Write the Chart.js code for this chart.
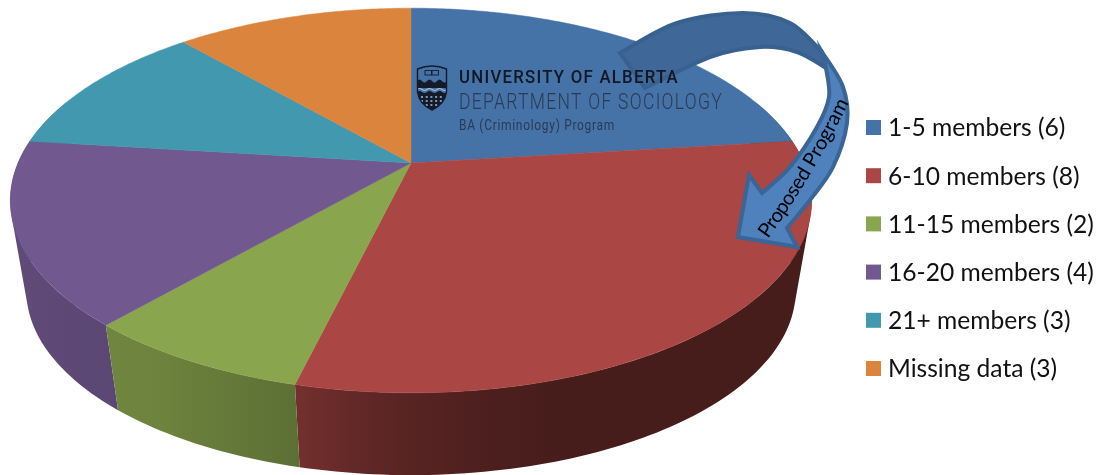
<!DOCTYPE html>
<html>
<head>
<meta charset="utf-8">
<style>
  body { margin: 0; background: #fff; }
  canvas { display: block; }
</style>
<script src="https://cdn.jsdelivr.net/npm/chart.js@4.4.0/dist/chart.umd.min.js"></script>
</head>
<body>
<canvas id="grafico" width="1100" height="475"></canvas>
<script>
// Datos
const categorias = ['1-5 members', '6-10 members', '11-15 members', '16-20 members', '21+ members', 'Missing data'];
const valores = [6, 8, 2, 4, 3, 3];
const colores = ['#4572A7', '#AA4643', '#89A54E', '#71588F', '#4198AF', '#DB843D'];

// Proyeccion del disco en perspectiva
const vista = { cx: 411, cy: 163, a: 393, b: 185, k: 0.195, fondo: 91.5, escala: 0.96 };
// Sombra de la cara lateral de izquierda (-1) a derecha (1)
const sombras = [[-1, 0.84], [-0.66, 0.8], [-0.3, 0.68], [-0.1, 0.55], [0.15, 0.46], [0.4, 0.41], [1, 0.41]];

function proyectar(ang, abajo) {
    const u = Math.sin(ang), v = -Math.cos(ang);
    const d = 1 - vista.k * v;
    const s = abajo ? vista.escala : 1;
    return {
        x: vista.cx + s * vista.a * u / d,
        y: vista.cy + (abajo ? vista.fondo : 0) + s * vista.b * v / d
    };
}

function oscurecer(hex, f) {
    const n = parseInt(hex.slice(1), 16);
    return `rgb(${Math.round((n >> 16) * f)},${Math.round(((n >> 8) & 255) * f)},${Math.round((n & 255) * f)})`;
}

function curva(ctx, pts, mover) {
    if (mover) ctx.moveTo(pts[0][0], pts[0][1]); else ctx.lineTo(pts[0][0], pts[0][1]);
    for (let i = 0; i < pts.length - 1; i++) {
        const p0 = pts[Math.max(i - 1, 0)], p1 = pts[i], p2 = pts[i + 1], p3 = pts[Math.min(i + 2, pts.length - 1)];
        ctx.bezierCurveTo(
            p1[0] + (p2[0] - p0[0]) / 6, p1[1] + (p2[1] - p0[1]) / 6,
            p2[0] - (p3[0] - p1[0]) / 6, p2[1] - (p3[1] - p1[1]) / 6,
            p2[0], p2[1]);
    }
}

function dibujarFlecha(ctx) {
    ctx.save();
    ctx.lineJoin = 'miter';
    // parte trasera oscura
    ctx.beginPath();
    curva(ctx, [[620, 53], [677, 23], [743, 13], [790, 23], [822, 52]], true);
    curva(ctx, [[826, 68], [797, 52], [760, 47], [710, 57], [645, 88]], false);
    ctx.closePath();
    ctx.fillStyle = '#3f6899';
    ctx.strokeStyle = '#38618f';
    ctx.lineWidth = 4;
    ctx.fill();
    ctx.stroke();
    // parte delantera clara
    ctx.beginPath();
    curva(ctx, [[826, 68], [829, 97], [817, 127], [790, 167], [762, 193]], true);
    ctx.lineTo(749, 175);
    ctx.lineTo(738, 237);
    ctx.lineTo(797, 247);
    curva(ctx, [[787, 228], [810, 200], [833, 167], [847, 123], [843, 87], [822, 52]], false);
    ctx.closePath();
    ctx.fillStyle = '#4f81bd';
    ctx.strokeStyle = '#3a6596';
    ctx.fill();
    ctx.stroke();
    ctx.restore();
}

function textoFlecha(ctx) {
    const texto = 'Proposed Program';
    const p0 = [768, 239], c = [812, 178], p2 = [849, 102];
    const punto = t => [
        (1 - t) * (1 - t) * p0[0] + 2 * t * (1 - t) * c[0] + t * t * p2[0],
        (1 - t) * (1 - t) * p0[1] + 2 * t * (1 - t) * c[1] + t * t * p2[1]
    ];
    ctx.save();
    ctx.font = '20px Lato';
    ctx.fillStyle = '#000';
    ctx.textAlign = 'left';
    ctx.textBaseline = 'alphabetic';
    const total = ctx.measureText(texto).width;
    for (let i = 0; i < texto.length; i++) {
        const t = ctx.measureText(texto.slice(0, i)).width / total;
        const [x, y] = punto(t);
        const [x2, y2] = punto(t + 0.01);
        ctx.save();
        ctx.translate(x, y);
        ctx.rotate(Math.atan2(y2 - y, x2 - x));
        ctx.fillText(texto[i], 0, 0);
        ctx.restore();
    }
    ctx.restore();
}

function dibujarEscudo(ctx) {
    ctx.save();
    const silueta = () => {
        ctx.beginPath();
        ctx.moveTo(417.5, 69);
        ctx.quadraticCurveTo(432, 63, 446.5, 69);
        ctx.lineTo(446.5, 92);
        ctx.quadraticCurveTo(445, 104, 432, 110);
        ctx.quadraticCurveTo(419, 104, 417.5, 92);
        ctx.closePath();
    };
    const ola = (y, alto) => {
        ctx.moveTo(417, y);
        for (let c = 0; c < 3; c++) {
            ctx.quadraticCurveTo(419.5 + c * 10, y - alto, 422 + c * 10, y);
            ctx.quadraticCurveTo(424.5 + c * 10, y + alto, 427 + c * 10, y);
        }
    };
    silueta();
    ctx.save();
    ctx.clip();
    ctx.fillStyle = '#4572a7';
    ctx.fillRect(417, 64, 30, 47);
    // banda de montanas
    ctx.fillStyle = '#141b28';
    ctx.beginPath();
    ola(81, 3);
    ctx.lineTo(447, 88);
    ctx.lineTo(417, 88);
    ctx.closePath();
    ctx.fill();
    // agua y parte baja
    ctx.strokeStyle = '#a9bad0';
    ctx.lineWidth = 1.2;
    ctx.beginPath();
    ola(89.5, 2);
    ctx.stroke();
    ctx.fillStyle = '#141b28';
    ctx.beginPath();
    ola(92, 2);
    ctx.lineTo(447, 111);
    ctx.lineTo(417, 111);
    ctx.closePath();
    ctx.fill();
    ctx.fillStyle = '#7d96b6';
    for (let f = 0; f < 3; f++) {
        for (let c = 0; c < 5; c++) {
            ctx.fillRect(421 + c * 4.7, 96 + f * 4, 2, 2);
        }
    }
    ctx.restore();
    silueta();
    ctx.strokeStyle = '#141b28';
    ctx.lineWidth = 1.4;
    ctx.stroke();
    ctx.lineWidth = 0.9;
    ctx.strokeRect(425, 70.5, 6.5, 4.5);
    ctx.strokeRect(432, 70.5, 6.5, 4.5);
    ctx.restore();
}

function dibujarLogo(ctx) {
    ctx.save();
    ctx.textAlign = 'left';
    ctx.textBaseline = 'alphabetic';
    ctx.letterSpacing = '1.4px';
    ctx.font = '500 19px Roboto';
    ctx.fillStyle = '#111824';
    ctx.fillText('UNIVERSITY OF ALBERTA', 459, 83, 220);
    ctx.letterSpacing = '1.6px';
    ctx.font = '300 22px Roboto';
    ctx.fillStyle = '#2b3a54';
    ctx.fillText('DEPARTMENT OF SOCIOLOGY', 459, 109, 264);
    ctx.letterSpacing = '0.8px';
    ctx.font = '14px Roboto';
    ctx.fillStyle = '#2b3a54';
    ctx.fillText('BA (Criminology) Program', 459, 130, 156);
    ctx.restore();
}

function dibujarLeyenda(chart) {
    const ctx = chart.ctx;
    ctx.save();
    ctx.font = '24.6px Lato';
    ctx.textBaseline = 'middle';
    ctx.textAlign = 'left';
    chart.data.labels.forEach((etiqueta, i) => {
        const y = 127.5 + i * 48.2;
        ctx.fillStyle = colores[i];
        ctx.fillRect(866, y - 7.5, 15, 15);
        ctx.fillStyle = '#111';
        ctx.fillText(`${etiqueta} (${valores[i]})`, 888, y + 1);
    });
    ctx.restore();
}

const pastel3d = {
    id: 'pastel3d',
    beforeDatasetsDraw(chart) {
        const ctx = chart.ctx;
        const arcos = chart.getDatasetMeta(0).data.map((arco, i) => ({
            i,
            ini: arco.startAngle + Math.PI / 2,
            fin: arco.endAngle + Math.PI / 2
        }));
        ctx.save();
        // Cara lateral, de atras hacia adelante (un solo trazado por porcion para evitar costuras)
        const orden = [...arcos].sort((m, n) => Math.cos((n.ini + n.fin) / 2) - Math.cos((m.ini + m.fin) / 2));
        orden.forEach(arco => {
            const grad = ctx.createLinearGradient(vista.cx - vista.a, 0, vista.cx + vista.a, 0);
            sombras.forEach(([u, f]) => grad.addColorStop((u + 1) / 2, oscurecer(colores[arco.i], f)));
            ctx.fillStyle = grad;
            const pasos = Math.ceil((arco.fin - arco.ini) / 0.02);
            ctx.beginPath();
            for (let p = 0; p < pasos; p++) {
                const a0 = arco.ini + (arco.fin - arco.ini) * p / pasos;
                const a1 = arco.ini + (arco.fin - arco.ini) * (p + 1) / pasos;
                if (Math.cos((a0 + a1) / 2) > 0.35) continue;
                let q = [proyectar(a0), proyectar(a1), proyectar(a1, true), proyectar(a0, true)];
                const area = q.reduce((s, r, n) => {
                    const t = q[(n + 1) % 4];
                    return s + r.x * t.y - t.x * r.y;
                }, 0);
                if (area < 0) q = q.reverse();
                q.forEach((r, n) => n ? ctx.lineTo(r.x, r.y) : ctx.moveTo(r.x, r.y));
                ctx.closePath();
            }
            ctx.fill();
        });
        // Cara superior
        arcos.forEach(arco => {
            const pasos = Math.ceil((arco.fin - arco.ini) / 0.012);
            ctx.beginPath();
            ctx.moveTo(vista.cx, vista.cy);
            for (let p = 0; p <= pasos; p++) {
                const q = proyectar(arco.ini + (arco.fin - arco.ini) * p / pasos);
                ctx.lineTo(q.x, q.y);
            }
            ctx.closePath();
            ctx.fillStyle = colores[arco.i];
            ctx.strokeStyle = colores[arco.i];
            ctx.lineWidth = 0.5;
            ctx.fill();
            ctx.stroke();
        });
        ctx.restore();
        dibujarEscudo(ctx);
        dibujarFlecha(ctx);
        dibujarLogo(ctx);
        textoFlecha(ctx);
        dibujarLeyenda(chart);
        return false;
    }
};

new Chart(document.getElementById('grafico'), {
    type: 'pie',
    data: {
        labels: categorias,
        datasets: [{ data: valores, backgroundColor: colores, borderWidth: 0 }]
    },
    options: {
        responsive: false,
        animation: false,
        plugins: {
            legend: { display: false },
            tooltip: { enabled: false }
        }
    },
    plugins: [pastel3d]
});
</script>
</body>
</html>
